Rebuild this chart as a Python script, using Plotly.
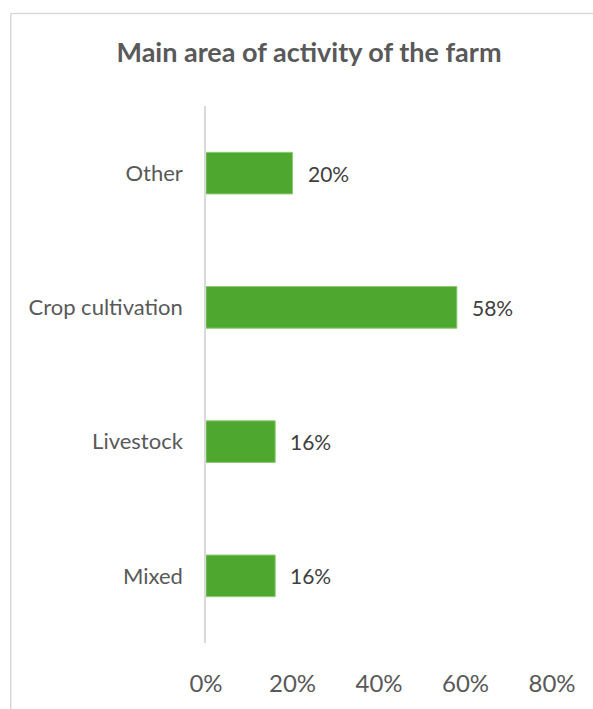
import plotly.graph_objects as go

# Share of farms by main area of activity
categories = ["Mixed", "Livestock", "Crop cultivation", "Other"]
shares = [16, 16, 58, 20]
tick_values = [0, 20, 40, 60, 80]
tick_labels = ["0%", "20%", "40%", "60%", "80%"]

GREEN = "#4EA72E"
GREY_TEXT = "#595959"
FONT = "Lato"

fig = go.Figure()
fig.add_trace(go.Bar(
    x=shares,
    y=categories,
    orientation="h",
    marker=dict(color=GREEN, line=dict(color="#8BCB74", width=1)),
    hoverinfo="skip",
))

# value labels to the right of each bar
for cat, val in zip(categories, shares):
    fig.add_annotation(
        x=val, y=cat, text=f"{val}%", showarrow=False,
        xanchor="left", yanchor="middle", xshift=13,
        font=dict(family=FONT, size=21, color="#404040"),
    )

# chart frame (top and left edges)
L, T, R, B = 206, 106, 552.5, 651
def px_x(p):
    return (p - L) / (R - L)
def px_y(p):
    return (B - p) / (B - T)

fig.add_shape(type="line", xref="paper", yref="paper",
              x0=px_x(10.5), x1=px_x(600), y0=px_y(12), y1=px_y(12),
              line=dict(color="#D9D9D9", width=1.5))
fig.add_shape(type="line", xref="paper", yref="paper",
              x0=px_x(10.5), x1=px_x(10.5), y0=px_y(12), y1=px_y(720),
              line=dict(color="#D9D9D9", width=1.5))

fig.update_layout(
    width=593, height=709,
    margin=dict(l=L, r=593 - R, t=T, b=709 - B),
    paper_bgcolor="white", plot_bgcolor="white",
    bargap=0.69,
    showlegend=False,
    title=dict(
        text="<b>Main area of activity of the farm</b>",
        x=309 / 593, xref="container", xanchor="center",
        y=1 - 53 / 709, yref="container", yanchor="middle",
        font=dict(family=FONT, size=27, color=GREY_TEXT),
    ),
    xaxis=dict(
        range=[0, 80], tickvals=tick_values, ticktext=tick_labels,
        showgrid=False, zeroline=False, showline=False,
        ticks="", ticklabelstandoff=24,
        tickfont=dict(family=FONT, size=24, color=GREY_TEXT),
        fixedrange=True,
    ),
    yaxis=dict(
        categoryorder="array", categoryarray=categories,
        showgrid=False, zeroline=False,
        showline=True, linecolor="#D9D9D9", linewidth=1.5,
        ticks="", ticklabelstandoff=17,
        tickfont=dict(family=FONT, size=22, color=GREY_TEXT),
        fixedrange=True,
    ),
)

fig.write_html("out.html")
